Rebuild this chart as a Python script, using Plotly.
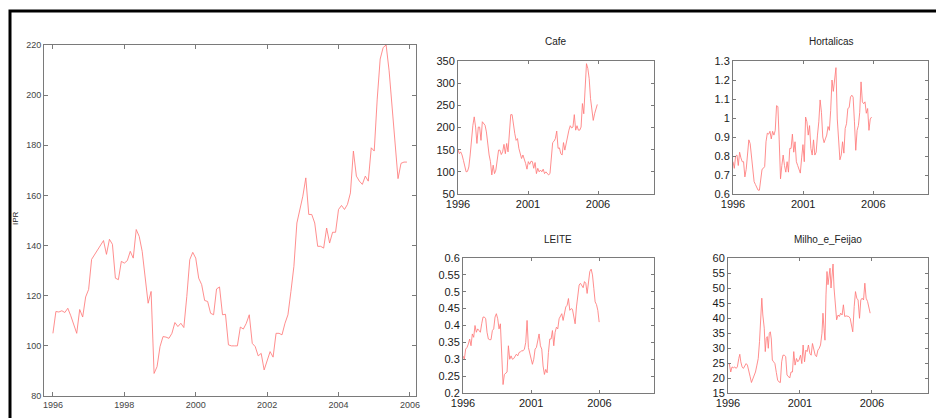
import numpy as np
import plotly.graph_objects as go

# ---------------- data ----------------
ipr = [105, 113.7, 113.5, 114, 113.3, 115, 112, 108, 105, 114.5, 111.5, 119.5,
       122.5, 134.5, 136.5, 138.5, 140.5, 142, 136.5, 142.5, 140.5, 127, 126.4, 133.7,
       133, 134, 137.7, 135, 146.4, 143.7, 137.7, 127, 117, 121.7, 89, 91.7,
       99.7, 103.7, 103.5, 103, 105, 109.3, 107.7, 109, 107.3, 119.7, 134.4, 137.3,
       135, 127, 124.4, 118.1, 117.7, 113, 112.4, 122.7, 123.5, 112.4, 112.6, 100.4,
       100, 100, 100, 107.5, 106.7, 109, 112.4, 101, 99.7, 96, 97, 90.4,
       93.7, 97.7, 95.5, 105, 105, 104.4, 109, 112.4, 121.7, 131.7, 149, 154.4,
       159.7, 167, 152.4, 152.4, 149, 139.7, 139.7, 139, 147, 141, 145.3, 145.3,
       154.4, 156, 154.4, 156.4, 161, 177.7, 167.7, 165.7, 164.4, 167.7, 165.7, 179,
       177.7, 198.4, 214.4, 219, 220, 209.7, 195.7, 182.4, 166.7, 172.8, 173.3, 173.3]
ipr_start, ipr_end = 1996.0, 1996.0 + 119 / 12

cafe = [150, 141, 145, 138, 126, 108, 100, 101, 111, 138,
        175, 205, 224, 201, 164, 201, 201, 171, 213, 209,
        205, 190, 160, 138, 123, 93, 115, 96, 104, 123,
        149, 149, 139, 145, 162, 141, 164, 145, 190, 229,
        229, 205, 186, 171, 175, 153, 138, 130, 138, 130,
        119, 106, 123, 117, 124, 123, 108, 121, 96, 108,
        100, 104, 100, 106, 96, 100, 96, 93, 96, 138,
        166, 169, 175, 192, 153, 154, 141, 138, 166, 149,
        164, 183, 194, 204, 199, 201, 229, 194, 204, 194,
        194, 201, 254, 231, 303, 344, 333, 310, 265, 243,
        216, 231, 243, 252]
cafe_start, cafe_end = 1996.0, 2005.95

hortalicas = [0.77, 0.735, 0.80, 0.805, 0.75, 0.82, 0.79, 0.77, 0.77, 0.69,
              0.73, 0.805, 0.885, 0.865, 0.79, 0.71, 0.665, 0.65, 0.635, 0.62,
              0.62, 0.675, 0.73, 0.735, 0.745, 0.875, 0.92, 0.915, 0.93, 0.89,
              0.93, 0.91, 0.935, 1.065, 1.06, 0.885, 0.68, 0.75, 0.805, 0.75,
              0.715, 0.77, 0.715, 0.84, 0.84, 0.915, 0.82, 0.875, 0.77, 0.75,
              0.73, 0.71, 0.79, 0.86, 0.77, 1.005, 0.98, 0.91, 0.96, 0.84,
              0.805, 0.885, 0.805, 0.82, 0.91, 0.98, 1.095, 1.03, 0.90, 0.87,
              0.89, 0.91, 0.955, 0.935, 1.04, 1.20, 1.14, 1.225, 1.265, 0.995,
              0.91, 0.78, 0.805, 0.875, 0.815, 0.945, 0.97, 1.05, 1.055, 1.11,
              1.12, 1.11, 0.98, 0.83, 0.935, 0.96, 1.03, 1.19, 1.085, 1.075,
              1.085, 1.025, 1.05, 0.935, 0.995, 1.005]
hort_start, hort_end = 1996.0, 2005.88

leite = [0.31, 0.30, 0.33, 0.335, 0.345, 0.36, 0.34, 0.375, 0.365, 0.40,
         0.38, 0.39, 0.385, 0.38, 0.405, 0.425, 0.425, 0.42, 0.38, 0.36,
         0.358, 0.358, 0.385, 0.39, 0.425, 0.435, 0.42, 0.39, 0.405, 0.29,
         0.225, 0.255, 0.26, 0.262, 0.34, 0.30, 0.31, 0.30, 0.302, 0.31,
         0.315, 0.31, 0.32, 0.322, 0.325, 0.325, 0.33, 0.35, 0.415, 0.335,
         0.32, 0.305, 0.285, 0.30, 0.33, 0.335, 0.355, 0.375, 0.34, 0.33,
         0.28, 0.255, 0.27, 0.26, 0.32, 0.36, 0.36, 0.385, 0.34, 0.38,
         0.395, 0.39, 0.42, 0.43, 0.435, 0.415, 0.44, 0.455, 0.46, 0.48,
         0.445, 0.45, 0.448, 0.425, 0.405, 0.455, 0.495, 0.52, 0.525, 0.52,
         0.512, 0.53, 0.525, 0.495, 0.525, 0.56, 0.567, 0.55, 0.51, 0.47,
         0.462, 0.445, 0.41]
leite_start, leite_end = 1996.0, 2005.98

milho = [24.8, 24.8, 22, 23.7, 23.4, 23.7, 23.2, 23.7, 26.5, 27.9,
         25.4, 23.7, 23.2, 24.3, 24.8, 24.3, 22.6, 20.4, 18.5, 19.8,
         20.4, 22, 24.3, 26.5, 32.1, 41.6, 46.6, 41, 36.6, 28.8,
         33.2, 33.8, 29.9, 34.9, 35.4, 33, 26, 25.4, 24.8, 21.8,
         19.3, 18.7, 18.5, 25.4, 27.6, 27.6, 27.1, 21, 20.4, 20,
         22, 22, 28.8, 24.3, 26.5, 25.4, 26, 27.6, 24.8, 31,
         25.4, 29.3, 28.8, 31, 28.2, 27.6, 31.5, 29.9, 27.6, 27.1,
         29.3, 29.9, 31, 34.9, 41.6, 36.6, 32.6, 47.7, 55.5, 51.1,
         54.4, 56.6, 50, 55.5, 58, 50, 44.4, 39.4, 41, 40.5,
         41.6, 41, 44.4, 40.5, 40.7, 40.5, 40.5, 39.9, 37.1, 35.4,
         43.8, 48.8, 46.6, 46, 39.9, 46, 46.6, 46, 51.6, 46.6,
         45.5, 43.8, 41.6]
milho_years = [1996.00, 1996.09, 1996.19, 1996.28, 1996.37, 1996.47, 1996.56, 1996.65, 1996.75, 1996.82,
               1996.89, 1996.98, 1997.07, 1997.17, 1997.26, 1997.35, 1997.45, 1997.54, 1997.63, 1997.73,
               1997.82, 1997.91, 1998.01, 1998.10, 1998.19, 1998.28, 1998.35, 1998.42, 1998.52, 1998.59,
               1998.66, 1998.73, 1998.80, 1998.87, 1998.94, 1999.01, 1999.08, 1999.17, 1999.26, 1999.36,
               1999.45, 1999.54, 1999.64, 1999.73, 1999.82, 1999.92, 2000.01, 2000.10, 2000.20, 2000.29,
               2000.38, 2000.48, 2000.57, 2000.66, 2000.76, 2000.85, 2000.94, 2001.04, 2001.13, 2001.22,
               2001.32, 2001.41, 2001.50, 2001.59, 2001.69, 2001.78, 2001.87, 2001.97, 2002.06, 2002.15,
               2002.25, 2002.34, 2002.43, 2002.53, 2002.60, 2002.67, 2002.74, 2002.81, 2002.88, 2002.95,
               2003.02, 2003.09, 2003.16, 2003.23, 2003.30, 2003.37, 2003.46, 2003.55, 2003.65, 2003.74,
               2003.83, 2003.93, 2004.02, 2004.11, 2004.21, 2004.30, 2004.39, 2004.49, 2004.58, 2004.67,
               2004.77, 2004.86, 2004.95, 2005.04, 2005.14, 2005.23, 2005.32, 2005.42, 2005.51, 2005.60,
               2005.70, 2005.79, 2005.88]

main_xticks = [1996, 1998, 2000, 2002, 2004, 2006]
small_xticks = [1996, 2001, 2006]
titles = ["Cafe", "Hortalicas", "LEITE", "Milho_e_Feijao"]

# ---------------- layout helpers ----------------
W, H = 936, 418
def dx(a, b):
    return [a / W, b / W]
def dy(top, bottom):
    return [1 - bottom / H, 1 - top / H]

LINE = dict(color="#ff7a7a", width=0.85)
AXC = "#7a7a7a"
main_font = dict(family="Liberation Sans Narrow, Arial Narrow, Liberation Sans, Arial", size=9, color="#444444")
small_font = dict(family="Liberation Sans, Arial", size=11, color="#1a1a1a")

def ax(domain, rng, font, ticklen, **kw):
    d = dict(domain=domain, range=rng, showline=True, linecolor=AXC, linewidth=1,
             mirror="ticks", ticks="inside", ticklen=ticklen, tickcolor=AXC, tickwidth=1,
             showgrid=False, zeroline=False, tickfont=font, fixedrange=True, automargin=False)
    d.update(kw)
    return d

fig = go.Figure()
fig.add_trace(go.Scatter(x=np.linspace(ipr_start, ipr_end, len(ipr)), y=ipr, mode="lines",
                         line=LINE, xaxis="x", yaxis="y", hoverinfo="skip"))
fig.add_trace(go.Scatter(x=np.linspace(cafe_start, cafe_end, len(cafe)), y=cafe, mode="lines",
                         line=LINE, xaxis="x2", yaxis="y2", hoverinfo="skip"))
fig.add_trace(go.Scatter(x=np.linspace(hort_start, hort_end, len(hortalicas)), y=hortalicas, mode="lines",
                         line=LINE, xaxis="x3", yaxis="y3", hoverinfo="skip"))
fig.add_trace(go.Scatter(x=np.linspace(leite_start, leite_end, len(leite)), y=leite, mode="lines",
                         line=LINE, xaxis="x4", yaxis="y4", hoverinfo="skip"))
fig.add_trace(go.Scatter(x=milho_years, y=milho, mode="lines",
                         line=LINE, xaxis="x5", yaxis="y5", hoverinfo="skip"))

layout = dict(
    width=W, height=H, margin=dict(l=0, r=0, t=0, b=0, autoexpand=False),
    paper_bgcolor="white", plot_bgcolor="white", showlegend=False,
    # main
    xaxis=ax(dx(44, 416), [1995.75, 2006.17], main_font, 4, tickvals=main_xticks, anchor="y"),
    yaxis=ax(dy(45, 396), [80, 220], main_font, 4, dtick=20, tick0=80, anchor="x"),
    # Cafe
    xaxis2=ax(dx(458, 654), [1996, 2010], small_font, 3, tickvals=small_xticks, anchor="y2"),
    yaxis2=ax(dy(61, 194), [50, 350], small_font, 3, dtick=50, tick0=50, anchor="x2"),
    # Hortalicas
    xaxis3=ax(dx(733, 928), [1996, 2009.9], small_font, 3, tickvals=small_xticks, anchor="y3"),
    yaxis3=ax(dy(61, 194), [0.6, 1.3], small_font, 3, dtick=0.1, tick0=0.6, anchor="x3"),
    # LEITE
    xaxis4=ax(dx(463, 654), [1996, 2010.0], small_font, 3, tickvals=small_xticks, anchor="y4"),
    yaxis4=ax(dy(258, 393), [0.2, 0.6], small_font, 3, dtick=0.05, tick0=0.2, anchor="x4"),
    # Milho
    xaxis5=ax(dx(728, 928), [1996, 2009.9], small_font, 3, tickvals=small_xticks, anchor="y5"),
    yaxis5=ax(dy(258, 393), [15, 60], small_font, 3, dtick=5, tick0=15, anchor="x5"),
)

title_font = dict(family="Liberation Sans, Arial", size=10, color="#222222")
def label(text, xpx, ypx, **kw):
    d = dict(text=text, x=xpx / W, y=1 - ypx / H, xref="paper", yref="paper", showarrow=False,
             xanchor="center", yanchor="middle", font=title_font)
    d.update(kw)
    return d

ann = [
    label(titles[0], 556, 41),
    label(titles[1], 831, 41),
    label(titles[2], 558, 239),
    label(titles[3], 828, 239),
    label("IPR", 16, 218, textangle=-90,
          font=dict(family="Liberation Sans, Arial", size=8, color="#222222")),
]
layout["annotations"] = ann
layout["shapes"] = [dict(type="rect", xref="paper", yref="paper", x0=10 / W, x1=1.05, y0=-0.05, y1=1 - 11 / H,
                         line=dict(color="black", width=3), fillcolor="rgba(0,0,0,0)", layer="above")]

fig.update_layout(**layout)
fig.write_html("out.html", config={"displayModeBar": False, "staticPlot": True},
               post_script="document.body.style.margin='0';document.body.style.padding='0';"
                           "document.body.style.overflow='hidden';")
